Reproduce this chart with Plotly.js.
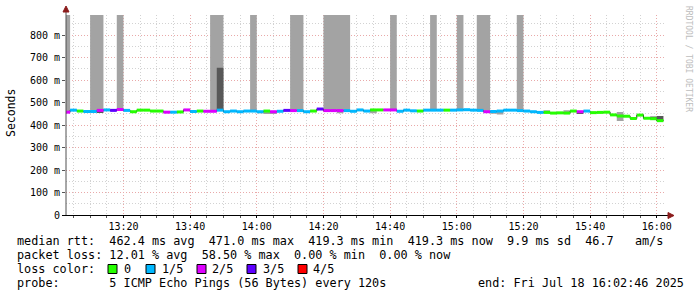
<!DOCTYPE html>
<html><head><meta charset="utf-8">
<script src="https://cdn.plot.ly/plotly-3.0.1.min.js"></script>
<style>html,body{margin:0;padding:0;background:#fff;} #chart{width:697px;height:297px;}</style>
</head><body><div id="chart"></div>
<script>
// 2-minute steps starting 13:02 (UTC used as wall-clock)
const startTime = Date.UTC(2025,6,18,13,2,0);
const stepMs = 120000;
const rangeStart = Date.UTC(2025,6,18,13,2,46);
const rangeEnd = Date.UTC(2025,6,18,16,2,46);

const medianRtt = [
457,466,462,460,460,465,467,465,469,465,
459,466,466,462,462,457,457,458,467,460,
462,461,461,466,459,462,459,462,462,459,
462,459,461,465,464,464,459,462,471,464,
464,464,464,461,467,462,467,467,467,467,
461,466,463,462,466,466,466,466,466,467,
468,466,465,459,460,462,466,466,464,462,
459,456,456,453,454,453,462,459,462,455,
456,457,445,440,439,429,444,430,428,419.3];

const lossIdx = [
2,1,0,1,1,2,1,3,2,1,
0,0,0,0,0,2,1,0,2,1,
0,2,2,1,1,1,1,1,1,1,
0,2,1,3,2,1,1,0,3,2,
2,2,1,1,1,1,0,0,2,2,
1,1,1,0,1,1,1,0,1,1,
1,1,1,2,1,1,1,1,1,1,
1,1,0,0,0,0,0,2,1,0,
0,0,0,0,0,0,0,0,0,0];

const smokeLow = [
454,463,459,457,457,462,464,462,466,462,
456,463,463,459,459,454,454,455,464,455,
459,458,458,463,456,459,456,459,459,452,
449,449,458,462,461,461,456,459,468,461,
461,452,461,458,464,459,452,464,464,464,
458,463,460,459,463,463,463,463,463,464,
465,463,462,456,450,447,463,463,461,459,
456,453,453,450,451,450,459,456,459,452,
453,454,442,418,436,426,441,427,425,417];

const smokeHigh = [
1000,469,465,463,1000,1000,470,468,1000,468,
462,469,469,465,465,460,460,461,470,463,
465,464,1000,1000,462,465,462,465,1000,462,
465,462,464,468,1000,1000,462,465,474,1000,
1000,1000,1000,464,470,465,470,470,470,1000,
464,469,466,465,469,1000,469,469,469,1000,
471,469,1000,1000,463,465,469,469,1000,465,
462,459,466,456,457,466,465,462,465,458,
459,460,448,458,442,432,447,433,431,422];

const darkLow = [
null,null,null,null,null,453,null,null,null,null,
null,null,null,null,null,null,null,null,null,null,
null,null,null,463,null,null,null,null,null,null,
null,null,null,null,null,null,null,null,null,null,
null,null,null,null,null,null,null,null,null,null,
null,null,null,null,null,null,null,null,null,null,
null,null,null,null,null,null,null,null,null,null,
null,null,null,null,null,null,null,449,null,null,
null,null,null,null,null,null,444,null,428,419];

const darkHigh = [
null,null,null,null,null,462,null,null,null,null,
null,null,null,null,null,null,null,null,null,null,
null,null,null,655,null,null,null,null,null,null,
null,null,null,null,null,null,null,null,null,null,
null,null,null,null,null,null,null,null,null,null,
null,null,null,null,null,null,null,null,null,null,
null,null,null,null,null,null,null,null,null,null,
null,null,null,null,null,null,null,459,null,null,
null,null,null,null,null,null,449,null,438,440];

const lossColors = ['#26ff00','#00b8ff','#dd00ff','#5e00ff','#ff0000'];
const lossLabels = ['0','1/5','2/5','3/5','4/5'];
const yTickVals = [0,100,200,300,400,500,600,700,800];
const yTickText = ['0','100 m','200 m','300 m','400 m','500 m','600 m','700 m','800 m'];

const statLines = [
  'median rtt:  462.4 ms avg  471.0 ms max  419.3 ms min  419.3 ms now  9.9 ms sd  46.7   am/s',
  'packet loss: 12.01 % avg  58.50 % max  0.00 % min  0.00 % now'
];
const probeText = 'probe:       5 ICMP Echo Pings (56 Bytes) every 120s';
const endText = 'end: Fri Jul 18 16:02:46 2025';

// ---- build traces ----
const n = medianRtt.length;
const starts = medianRtt.map((_, i) => startTime + i*stepMs);

function smokeTrace(lo, hi, color){
  const xs = [], ys = [];
  for (let i=0;i<n;i++){
    if (lo[i]==null || hi[i]==null) continue;
    const a = starts[i], b = starts[i]+stepMs;
    xs.push(a, b, b, a, a, null);
    ys.push(lo[i], lo[i], hi[i], hi[i], lo[i], null);
  }
  return {type:'scatter', mode:'lines', x:xs, y:ys, fill:'toself', fillcolor:color,
    line:{width:0, color:color}, hoverinfo:'skip', connectgaps:false};
}
const traces = [];
traces.push(smokeTrace(smokeLow, smokeHigh, '#a3a3a3'));
traces.push(smokeTrace(darkLow, darkHigh, '#585858'));
// black step median
traces.push({
  type:'scatter', mode:'lines', x:starts.concat([starts[n-1]+stepMs]),
  y:medianRtt.concat([medianRtt[n-1]]), line:{shape:'hv', color:'#202020', width:1},
  hoverinfo:'skip'
});
// coloured median segments by loss
lossColors.forEach((col, c) => {
  const xs = [], ys = [];
  for (let i=0;i<n;i++){
    if (lossIdx[i]===c){
      xs.push(starts[i], starts[i]+stepMs, null);
      ys.push(medianRtt[i], medianRtt[i], null);
    }
  }
  traces.push({type:'scatter', mode:'lines', x:xs, y:ys, line:{color:col, width:3}, connectgaps:false, hoverinfo:'skip'});
});

// ---- layout helpers (pixel -> paper) ----
const L=66, T=15, W=600, H=200;
const px = v => (v-L)/W;
const py = v => (T+H-v)/H;
const nb = s => s.replace(/ /g, '\u00A0');
const mono = 'DejaVu Sans Mono, monospace';

const annotations = [];
const textAnn = (s, x, y, opts={}) => annotations.push(Object.assign({
  text:nb(s), xref:'paper', yref:'paper', x:px(x), y:py(y), xanchor:'left', yanchor:'middle',
  showarrow:false, borderpad:0, font:{family:mono, size:11.8, color:'#000'}
}, opts));

textAnn(statLines[0], 16, 241);
textAnn(statLines[1], 16, 255);
textAnn('loss color:', 16, 269);
const sqX = [108,146,197,247,298];
const lbX = [123,161,211,262,312];
lossLabels.forEach((lb,i)=> textAnn(lb, lbX[i], 269));
textAnn(probeText, 16, 283);
textAnn(endText, 477, 283);
annotations.push({text:'Seconds', xref:'paper', yref:'paper', x:px(11), y:py(113), textangle:-90,
  xanchor:'center', yanchor:'middle', showarrow:false, borderpad:0, font:{family:mono, size:11.5, color:'#000'}});
annotations.push({text:nb('RRDTOOL / TOBI OETIKER'), xref:'paper', yref:'paper', x:px(688), y:py(59), textangle:90,
  xanchor:'center', yanchor:'middle', showarrow:false, borderpad:0, font:{family:mono, size:8, color:'#bdbdbd'}});

const shapes = [];
sqX.forEach((x,i)=> shapes.push({type:'rect', xref:'paper', yref:'paper', x0:px(x), x1:px(x+9), y0:py(273.5), y1:py(264.5),
  fillcolor:lossColors[i], line:{color:'#000', width:1}}));
// axis lines + arrows
shapes.push({type:'line', xref:'paper', yref:'paper', x0:px(66), x1:px(66), y0:py(215), y1:py(9), line:{color:'#505050', width:1}});
shapes.push({type:'line', xref:'paper', yref:'paper', x0:px(62), x1:px(670), y0:py(215.5), y1:py(215.5), line:{color:'#000', width:1}});
shapes.push({type:'path', xref:'paper', yref:'paper',
  path:`M ${px(63)} ${py(12)} L ${px(69)} ${py(12)} L ${px(66)} ${py(6)} Z`, fillcolor:'#8b1c1c', line:{color:'#8b1c1c', width:1}});
shapes.push({type:'path', xref:'paper', yref:'paper',
  path:`M ${px(668)} ${py(212.5)} L ${px(668)} ${py(218.5)} L ${px(674)} ${py(215.5)} Z`, fillcolor:'#8b1c1c', line:{color:'#8b1c1c', width:1}});

const dots = '1px,2px';
const layout = {
  width:697, height:297, margin:{l:L, r:697-L-W, t:T, b:297-T-H, pad:0},
  paper_bgcolor:'#fff', plot_bgcolor:'#fff', showlegend:false,
  xaxis:{type:'date', range:[rangeStart, rangeEnd], tickformat:'%H:%M', tickmode:'linear',
    tick0:Date.UTC(2025,6,18,13,0,0), dtick:1200000, showgrid:true, gridcolor:'#e9a9a9', gridwidth:1, griddash:dots,
    minor:{tick0:Date.UTC(2025,6,18,13,0,0), dtick:300000, showgrid:true, gridcolor:'#d2d2d2', gridwidth:1, griddash:dots, ticks:'outside', ticklen:2, tickcolor:'#555'},
    ticks:'outside', ticklen:2, tickcolor:'#000', zeroline:false, showline:false, fixedrange:true,
    tickfont:{family:mono, size:10, color:'#000'}},
  yaxis:{range:[0, 888.9], tickmode:'array', tickvals:yTickVals, ticktext:yTickText,
    showgrid:true, gridcolor:'#e9a9a9', gridwidth:1, griddash:dots,
    minor:{dtick:50, tick0:0, showgrid:true, gridcolor:'#d2d2d2', gridwidth:1, griddash:dots},
    ticks:'outside', ticklen:3, tickcolor:'#555', zeroline:false, showline:false, fixedrange:true,
    tickfont:{family:mono, size:10, color:'#000'}},
  annotations, shapes
};
Plotly.newPlot('chart', traces, layout, {staticPlot:true, displayModeBar:false});
</script></body></html>
